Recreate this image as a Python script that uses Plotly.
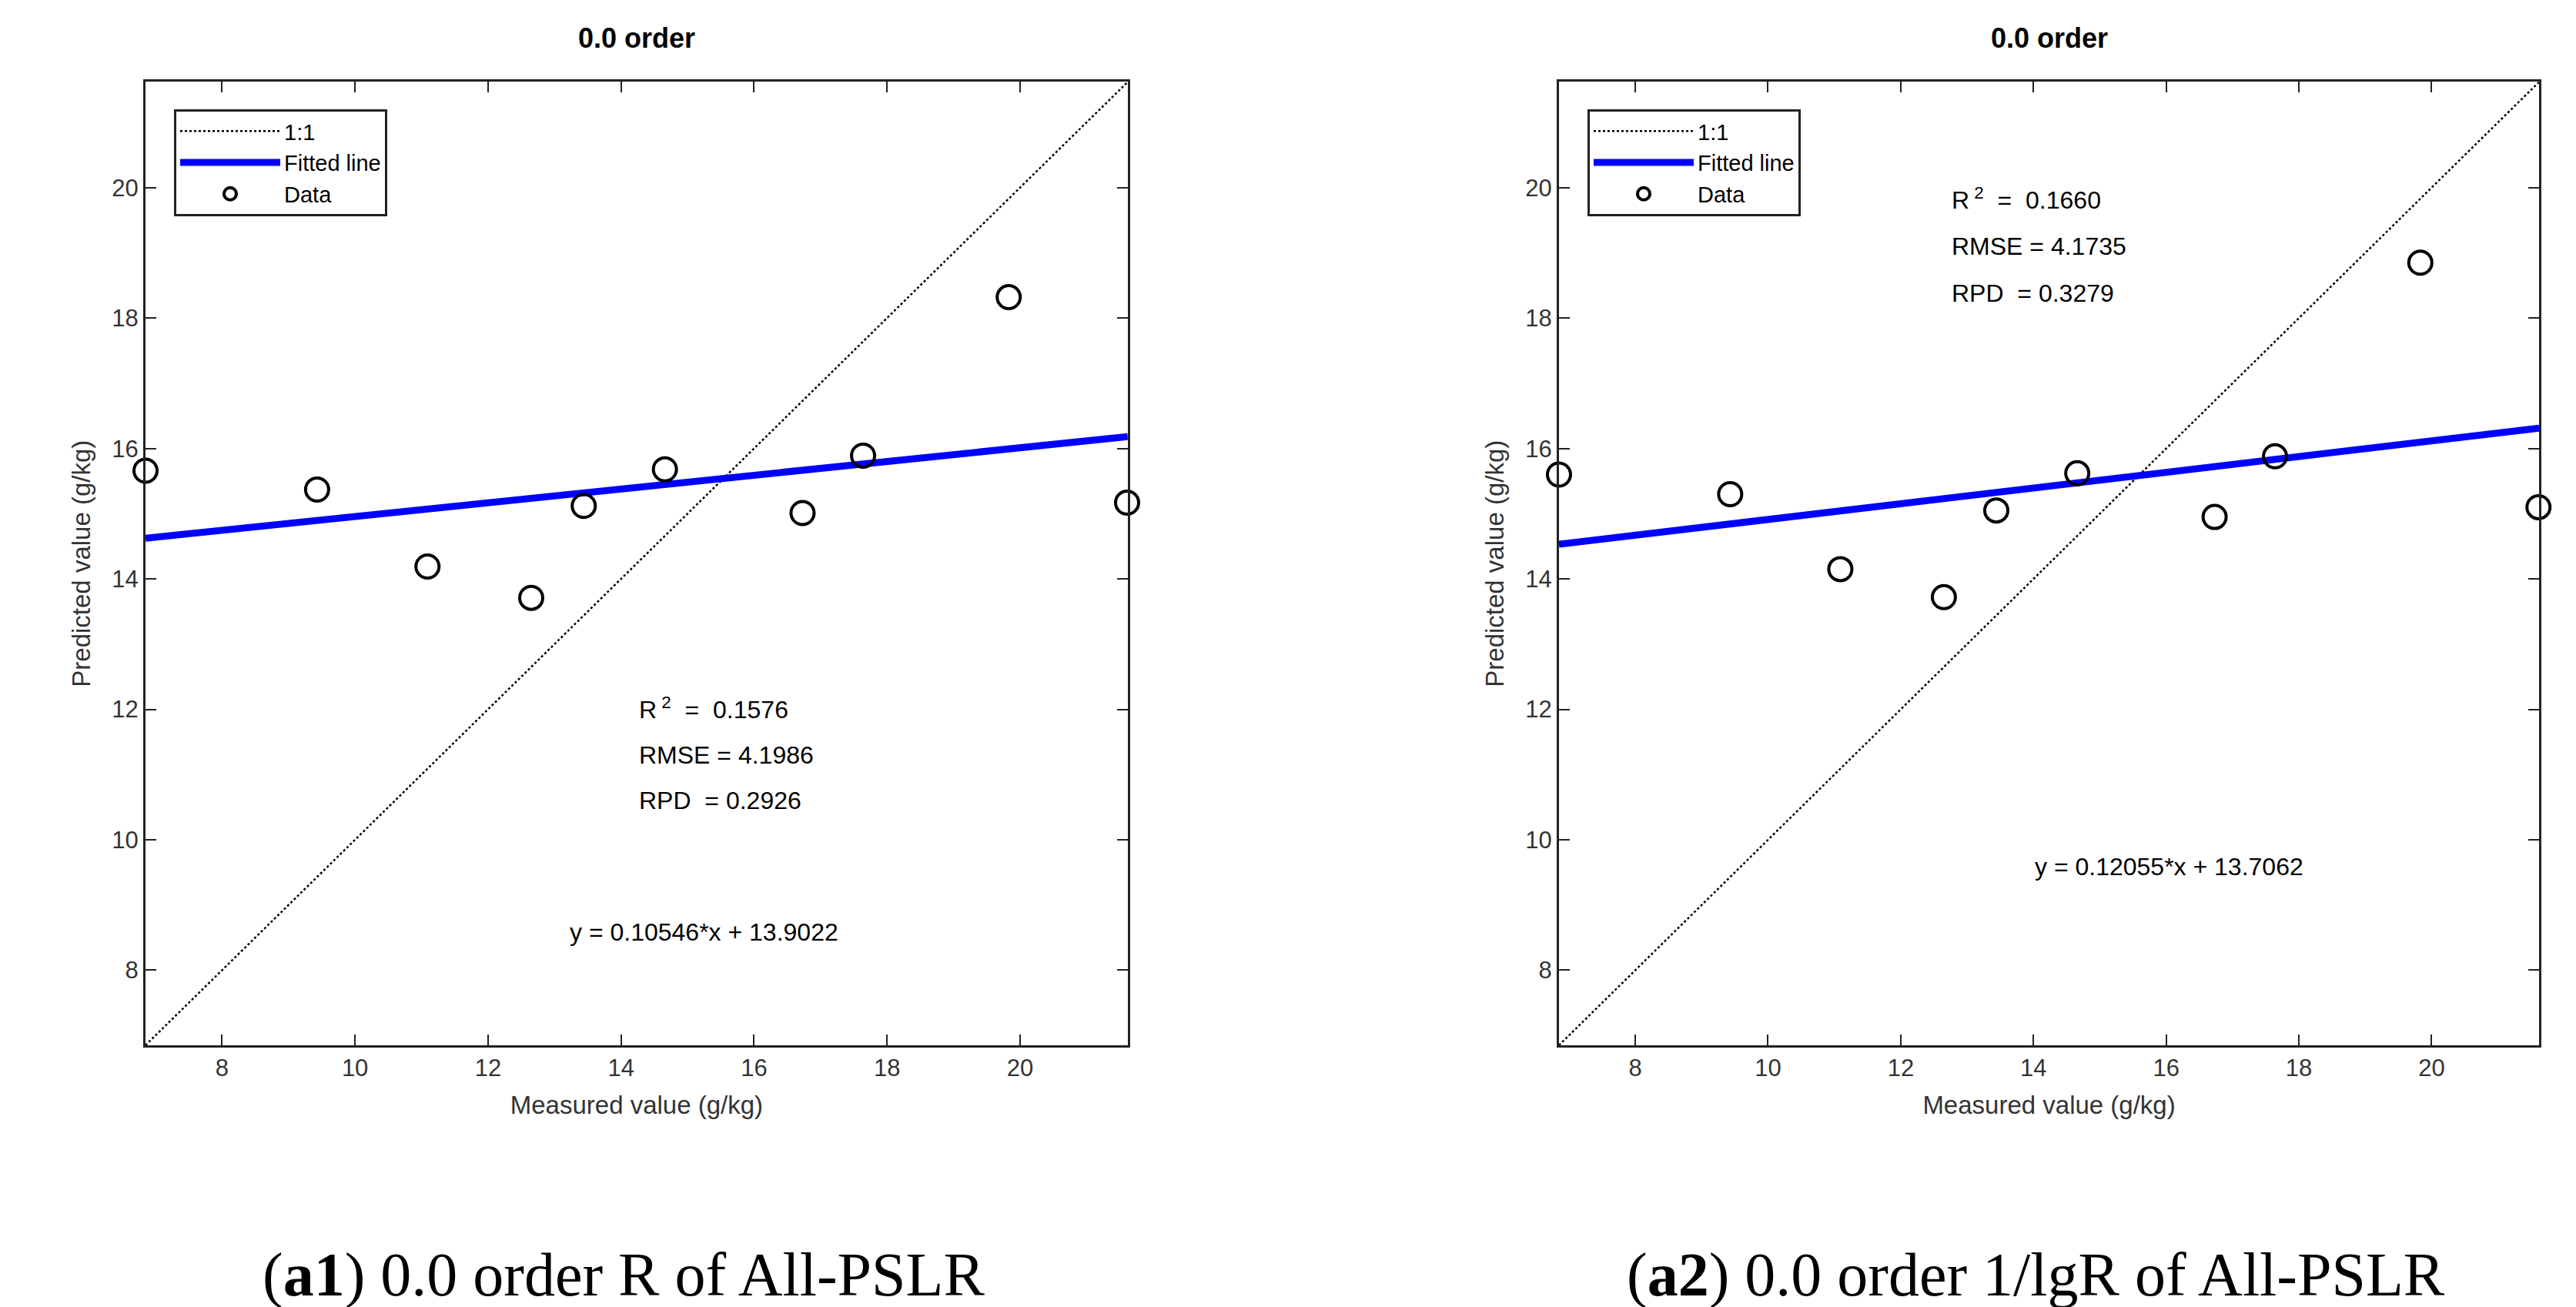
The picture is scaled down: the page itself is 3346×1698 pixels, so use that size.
import plotly.graph_objects as go

measured = [6.85, 9.43, 11.09, 12.65, 13.44, 14.66, 16.73, 17.64, 19.83, 21.61]
pred_a1 = [15.66, 15.37, 14.19, 13.71, 15.12, 15.68, 15.01, 15.89, 18.32, 15.17]
pred_a2 = [15.60, 15.30, 14.15, 13.72, 15.05, 15.62, 14.95, 15.88, 18.85, 15.10]
slopes = [0.10546, 0.12055]
intercepts = [13.9022, 13.7062]
stats_a1 = ["R<sup> 2</sup>  =  0.1576", "RMSE = 4.1986", "RPD  = 0.2926"]
stats_a2 = ["R<sup> 2</sup>  =  0.1660", "RMSE = 4.1735", "RPD  = 0.3279"]
eq_texts = ["y = 0.10546*x + 13.9022", "y = 0.12055*x + 13.7062"]
captions = ["(<b>a1</b>) 0.0 order R of All-PSLR", "(<b>a2</b>) 0.0 order 1/lgR of All-PSLR"]
ticks = [8, 10, 12, 14, 16, 18, 20]
rng = [6.85, 21.62]

fig = go.Figure()
F = "Liberation Sans"
xdoms = [[0.0541, 0.4354], [0.6028, 0.9833]]
ydom = [0.205, 0.942]
preds = [pred_a1, pred_a2]
stat_pos = [(14.25, [12.02, 11.3, 10.6]), (12.74, [19.83, 19.1, 18.38])]
eq_pos = [(13.2, 8.58), (14.0, 9.59)]
leg_x = [218 / 3346, (218 + 1836) / 3346]

for i in range(2):
    xa = "x" if i == 0 else "x2"
    ya = "y" if i == 0 else "y2"
    lg = "legend" if i == 0 else "legend2"
    fig.add_trace(go.Scatter(x=rng, y=rng, mode="lines", name="1:1",
                             line=dict(color="black", width=2.5, dash="dot"),
                             xaxis=xa, yaxis=ya, legend=lg))
    fx = rng
    fy = [slopes[i] * v + intercepts[i] for v in fx]
    fig.add_trace(go.Scatter(x=fx, y=fy, mode="lines", name="Fitted line",
                             line=dict(color="#0000ff", width=9),
                             xaxis=xa, yaxis=ya, legend=lg))
    fig.add_trace(go.Scatter(x=measured, y=preds[i], mode="markers", name="Data",
                             marker=dict(symbol="circle-open", size=30, color="black",
                                         line=dict(width=4)),
                             xaxis=xa, yaxis=ya, legend=lg, cliponaxis=False))
    axcommon = dict(range=rng, tickvals=ticks, ticks="inside", ticklen=14, tickwidth=2,
                    mirror="ticks", showline=True, linecolor="#222", linewidth=3,
                    showgrid=False, zeroline=False, tickcolor="#222",
                    tickfont=dict(family=F, size=31, color="#333"))
    fig.layout[("xaxis" if i == 0 else "xaxis2")] = dict(
        domain=xdoms[i], anchor=ya, **axcommon,
        title=dict(text="Measured value (g/kg)", font=dict(family=F, size=33, color="#333"), standoff=20))
    fig.layout[("yaxis" if i == 0 else "yaxis2")] = dict(
        domain=ydom, anchor=xa, **axcommon,
        title=dict(text="Predicted value (g/kg)", font=dict(family=F, size=33, color="#333"), standoff=18))
    fig.layout[lg] = dict(x=leg_x[i], y=1 - 134 / 1698, xanchor="left", yanchor="top",
                          bordercolor="#222", borderwidth=3, bgcolor="white",
                          itemwidth=130, tracegroupgap=14,
                          font=dict(family=F, size=29, color="black"))
    sx, sys_ = stat_pos[i]
    st = stats_a1 if i == 0 else stats_a2
    for t, yy in zip(st, sys_):
        fig.add_annotation(x=sx, y=yy, xref=xa, yref=ya, text=t, showarrow=False,
                           xanchor="left", font=dict(family=F, size=32, color="black"))
    fig.add_annotation(x=eq_pos[i][0], y=eq_pos[i][1], xref=xa, yref=ya, text=eq_texts[i],
                       showarrow=False, xanchor="left", font=dict(family=F, size=32, color="black"))
    cx = (xdoms[i][0] + xdoms[i][1]) / 2
    fig.add_annotation(x=cx, y=1 - 42 / 1698, xref="paper", yref="paper", text="<b>0.0 order</b>",
                       showarrow=False, xanchor="center", yanchor="middle",
                       font=dict(family=F, size=36, color="black"))
    fig.add_annotation(x=cx - 0.005, y=1 - 1648 / 1698, xref="paper", yref="paper", text=captions[i],
                       showarrow=False, xanchor="center", yanchor="middle",
                       font=dict(family="Liberation Serif", size=80, color="black"))

fig.update_layout(width=3346, height=1698, margin=dict(l=0, r=0, t=0, b=0),
                  plot_bgcolor="white", paper_bgcolor="white")
fig.write_html("out.html")
